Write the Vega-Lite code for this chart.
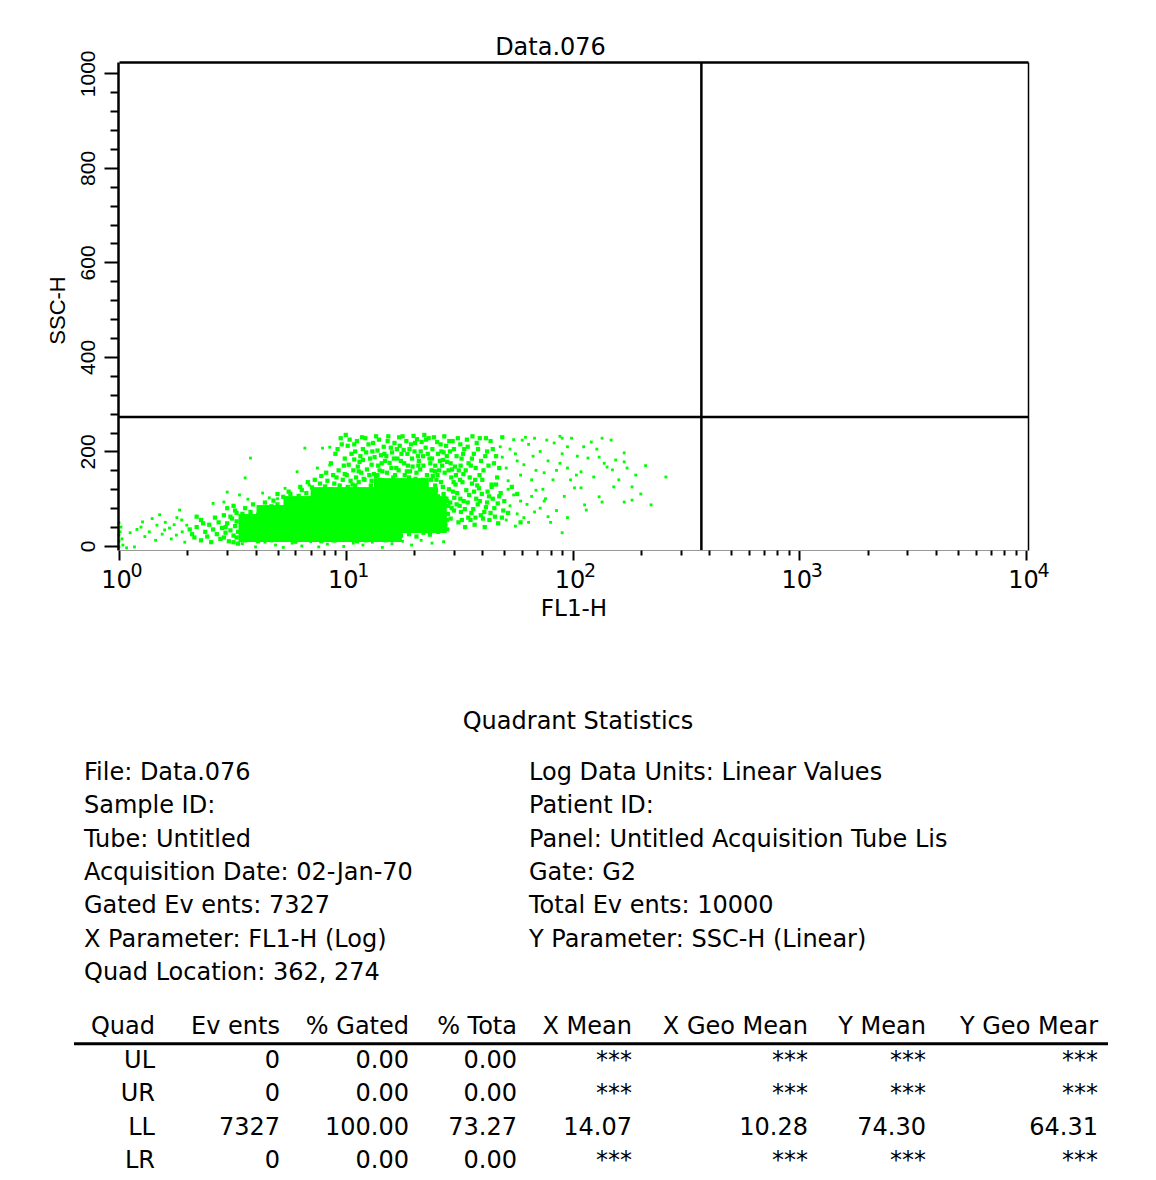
{
"$schema": "https://vega.github.io/schema/vega-lite/v6.json",
"autosize": "none",
"width": 909,
"height": 488,
"padding": {"left": 119, "top": 62, "right": 128, "bottom": 630},
"background": "white",
"config": {"view": {"stroke": null}, "font": "DejaVu Sans"},
"title": {"text": "Data.076", "font": "DejaVu Sans", "fontSize": 24, "fontWeight": "normal", "color": "black", "anchor": "middle", "dx": -23, "offset": -29, "baseline": "alphabetic"},
"datasets": {
"core": "fl1,ssc\n3.54,19\n3.54,38\n3.54,57\n3.88,19\n3.88,38\n3.88,57\n4.25,19\n4.25,38\n4.25,57\n4.25,76\n4.66,19\n4.66,38\n4.66,57\n4.66,76\n5.10,19\n5.10,38\n5.10,57\n5.10,76\n5.59,19\n5.59,38\n5.59,57\n5.59,76\n5.59,95\n6.13,19\n6.13,38\n6.13,57\n6.13,76\n6.13,95\n6.72,19\n6.72,38\n6.72,57\n6.72,76\n6.72,95\n7.36,19\n7.36,38\n7.36,57\n7.36,76\n7.36,95\n7.36,114\n8.07,19\n8.07,38\n8.07,57\n8.07,76\n8.07,95\n8.07,114\n8.84,19\n8.84,38\n8.84,57\n8.84,76\n8.84,95\n8.84,114\n9.69,19\n9.69,38\n9.69,57\n9.69,76\n9.69,95\n9.69,114\n10.6,19\n10.6,38\n10.6,57\n10.6,76\n10.6,95\n10.6,114\n11.6,19\n11.6,38\n11.6,57\n11.6,76\n11.6,95\n11.6,114\n12.7,19\n12.7,38\n12.7,57\n12.7,76\n12.7,95\n12.7,114\n14.0,19\n14.0,38\n14.0,57\n14.0,76\n14.0,95\n14.0,114\n14.0,133\n15.3,19\n15.3,38\n15.3,57\n15.3,76\n15.3,95\n15.3,114\n15.3,133\n16.8,19\n16.8,38\n16.8,57\n16.8,76\n16.8,95\n16.8,114\n16.8,133\n18.4,38\n18.4,57\n18.4,76\n18.4,95\n18.4,114\n18.4,133\n20.1,38\n20.1,57\n20.1,76\n20.1,95\n20.1,114\n20.1,133\n22.1,38\n22.1,57\n22.1,76\n22.1,95\n22.1,114\n22.1,133\n24.2,38\n24.2,57\n24.2,76\n24.2,95\n24.2,114\n26.5,38\n26.5,57\n26.5,76\n26.5,95",
"mid": "fl1,ssc\n10.1,150\n10.3,172\n10.6,195\n10.2,212\n10.8,160\n10.5,138\n10.9,183\n10.4,225\n11.1,145\n11.3,168\n11.6,190\n11.9,205\n11.2,222\n11.7,155\n11.5,178\n11.8,230\n12.1,140\n12.4,162\n12.8,185\n13.1,200\n12.6,215\n13.3,152\n12.2,228\n13.0,172\n13.6,148\n13.9,170\n14.3,192\n14.7,210\n14.0,225\n14.5,158\n14.9,180\n13.8,202\n15.2,155\n15.6,176\n16.0,198\n16.4,218\n15.4,232\n16.7,165\n16.2,145\n15.8,208\n17.1,160\n17.5,180\n18.0,203\n18.5,222\n17.3,212\n18.8,170\n18.2,150\n17.8,232\n19.2,158\n19.6,185\n20.1,200\n20.6,226\n19.4,215\n20.9,170\n20.3,142\n19.9,233\n21.3,162\n21.9,190\n22.5,208\n23.2,228\n21.6,220\n23.6,175\n22.8,150\n22.2,235\n24.2,148\n24.8,170\n25.5,195\n26.2,215\n24.5,230\n26.8,182\n25.8,160\n25.1,140\n27.3,155\n28,178\n28.8,200\n29.6,222\n27.7,212\n30.3,168\n29.2,145\n30.8,190\n31.5,160\n32.4,185\n33.3,205\n34.2,225\n31.9,140\n34.8,175\n33,152\n32,215\n35.6,170\n36.7,195\n37.8,218\n38.9,150\n36.2,232\n39.5,180\n37.2,140\n40.5,160\n42,200\n43.5,222\n45,175\n46.5,145\n44,130\n41.5,228\n10.7,130\n11.4,135\n12.9,128\n14.2,140\n15.0,132\n16.5,150\n17.7,138\n19.0,145\n20.5,155\n21.8,140\n23.9,160\n25.4,150\n26.6,170\n28.4,160\n29.9,135\n11.0,200\n13.4,188\n15.1,190\n16.9,185\n18.7,195\n21.0,180\n23.0,195\n24.0,185\n27.0,198\n29.0,175\n8.6,175\n9.0,195\n9.3,160\n9.6,215\n9.9,185\n8.8,150\n9.5,228\n3.5,68\n3.6,80\n3.8,72\n3.9,88\n4.1,66\n4.2,78\n4.4,92\n4.5,70\n4.7,84\n4.8,96\n5.0,88\n5.2,76\n5.3,104\n5.5,92\n5.7,110\n5.8,98\n6.0,84\n6.2,106\n6.4,118\n6.5,96\n6.7,112\n6.9,100\n7.1,124\n7.3,108\n7.5,118\n7.7,132\n7.9,112\n8.1,126\n8.3,138\n8.6,120\n8.9,132\n9.1,145\n9.4,128\n9.7,140\n9.9,152\n2.1,25\n2.2,40\n2.3,12\n2.3,55\n2.4,30\n2.45,20\n2.5,45\n2.55,8\n2.6,35\n2.65,60\n2.7,25\n2.75,50\n2.8,15\n2.85,38\n2.9,65\n2.95,28\n3.0,48\n3.05,10\n3.1,33\n3.15,58\n3.2,22\n3.25,42\n3.3,70\n3.35,5\n2.2,62\n2.35,48\n2.05,35\n2.15,18\n3.0,80\n3.2,85\n27.5,45\n28.2,68\n28.9,92\n29.7,115\n30.5,130\n27.9,55\n29.3,80\n30.1,102\n28.5,120\n31.4,50\n32.2,72\n33.1,95\n34,118\n34.7,60\n32.7,135\n31.8,85\n33.6,40\n35.5,55\n36.5,78\n37.6,100\n38.7,122\n39.4,65\n36,132\n37,45\n38.2,88\n40.3,58\n41.5,82\n42.8,105\n44,125\n41,40\n43.5,70\n42.2,115\n45.5,62\n46.8,90\n48.2,112\n49.5,75\n47,48\n46,130\n26,60\n27,80\n25.5,105\n26.8,125\n24.8,128\n28,35\n9.2,205\n9.8,170\n10.0,235\n10.9,215\n11.4,158\n11.9,182\n12.3,198\n12.7,150\n13.2,218\n13.6,232\n14.1,160\n14.4,175\n14.8,195\n15.3,222\n15.9,165\n16.3,185\n16.8,205\n17.2,230\n17.6,195\n18.1,175\n18.6,158\n19.1,205\n19.7,168\n20.2,218\n20.8,190\n21.4,200\n22.0,170\n22.6,225\n23.4,185\n24.1,205\n24.7,158\n25.3,220\n26.0,180\n26.4,200\n27.2,232\n27.9,190\n28.6,222\n29.4,162\n30.0,205\n30.6,150\n31.2,228\n32.1,170\n32.9,195\n33.8,160\n34.5,210\n35.2,145\n36.0,185\n37.4,165\n38.3,205\n39.0,228\n40.0,140\n41.2,190\n42.6,170\n44.5,205\n46.0,190\n47.5,165\n49.0,230\n27.0,110\n28.0,95\n29.0,58\n30.0,75\n30.8,88\n31.0,112\n32.0,100\n32.5,55\n33.5,78\n34.5,92\n35.0,108\n35.8,70\n36.8,115\n37.3,60\n38.0,128\n39.0,95\n39.8,110\n40.8,72\n42.0,92\n43.0,55\n44.5,100\n45.2,80\n47.5,105\n48.8,60\n50,95\n52,70\n54,125\n57,110\n59,50\n5.0,110\n5.6,115\n6.3,125\n6.8,135\n7.3,140\n7.8,148\n8.2,155\n10.2,125\n11.0,128\n12.0,142\n13.0,138\n13.8,150\n22.5,128\n23.8,140\n26.3,135\n25.0,118\n3.3,18\n3.6,12\n4.1,10\n4.7,12\n5.4,14\n6.0,9\n6.9,14\n7.8,10\n8.8,12\n10.0,14\n11.2,10\n12.3,12\n13.5,15\n15.0,12\n16.2,16\n17.5,22\n19.0,25\n20.5,20\n22.0,28\n23.5,24\n25.5,30\n27.2,65\n27.8,100\n28.3,85\n2.9,18\n3.1,62\n3.25,75\n3.3,52\n3.35,30\n3.2,8\n2.95,40",
"sparse": "fl1,ssc\n1.0,49\n1.0,23\n1.04,2\n1.17,-2\n1.08,-4\n1.27,51\n1.36,30\n1.51,66\n1.47,44\n1.59,34\n1.67,38\n1.79,23\n1.85,76\n1.89,55\n1.99,44\n1.0,10\n1.01,30\n1.02,40\n1.0,-2\n1.03,15\n1.2,35\n1.3,20\n1.45,12\n1.55,25\n1.7,15\n1.75,45\n1.9,30\n1.95,8\n1.25,40\n1.4,58\n1.6,50\n1.8,60\n1.12,28\n3.5,5\n4.0,-2\n4.4,8\n4.9,2\n5.3,-3\n5.8,6\n6.4,0\n7.0,9\n7.6,-2\n8.3,4\n9.0,10\n9.8,-1\n10.8,6\n11.9,2\n13.1,8\n14.5,-3\n16,5\n17.8,10\n19.5,2\n21.5,12\n24,6\n27,9\n3.8,186\n3.6,144\n3.0,114\n6.1,157\n6.6,207\n7.9,207\n3.4,108\n4.6,102\n5.4,122\n6.9,129\n8.5,209\n7.5,165\n8.5,171\n2.9,93\n3.7,99\n4.3,112\n5.0,100\n2.6,90\n51,165\n53,205\n55,225\n57,180\n59,150\n52,138\n56,195\n61,172\n64,215\n67,190\n69,160\n62,230\n66,140\n48,210\n49,188\n51,55\n53,85\n55,108\n57,68\n59,95\n52,120\n56,42\n61,60\n63,88\n66,105\n68,72\n64,50\n69,118\n72,80\n76,100\n74,120\n78,62\n90,28\n109,123\n113,87\n115,76\n109,157\n117,186\n121,220\n135,228\n148,224\n131,188\n142,167\n150,161\n169,197\n169,178\n152,125\n183,125\n183,97\n169,93\n135,93\n131,104\n222,87\n258,146\n102,123\n95,165\n99,228\n90,228\n83,218\n77,224\n68,228\n60,224\n104,150\n124,146\n155,182\n174,165\n80,50\n85,75\n92,105\n98,140\n105,190\n112,210\n128,205\n138,175\n160,140\n190,150\n200,110\n210,170\n95,60\n88,175\n75,95\n82,140\n72,200\n78,180\n85,160\n90,195\n75,155\n95,210\n88,232",
"info": [
{"col":1,"line":1,"t":"File: Data.076"},
{"col":1,"line":2,"t":"Sample ID:"},
{"col":1,"line":3,"t":"Tube: Untitled"},
{"col":1,"line":4,"t":"Acquisition Date: 02-Jan-70"},
{"col":1,"line":5,"t":"Gated Ev ents: 7327"},
{"col":1,"line":6,"t":"X Parameter: FL1-H (Log)"},
{"col":1,"line":7,"t":"Quad Location: 362, 274"},
{"col":2,"line":1,"t":"Log Data Units: Linear Values"},
{"col":2,"line":2,"t":"Patient ID:"},
{"col":2,"line":3,"t":"Panel: Untitled Acquisition Tube Lis"},
{"col":2,"line":4,"t":"Gate: G2"},
{"col":2,"line":5,"t":"Total Ev ents: 10000"},
{"col":2,"line":6,"t":"Y Parameter: SSC-H (Linear)"}
],
"table": [
{"r":0,"c":1,"t":"Quad"},{"r":0,"c":2,"t":"Ev ents"},{"r":0,"c":3,"t":"% Gated"},{"r":0,"c":4,"t":"% Tota"},{"r":0,"c":5,"t":"X Mean"},{"r":0,"c":6,"t":"X Geo Mean"},{"r":0,"c":7,"t":"Y  Mean"},{"r":0,"c":8,"t":"Y Geo Mear"},
{"r":1,"c":1,"t":"UL"},{"r":1,"c":2,"t":"0"},{"r":1,"c":3,"t":"0.00"},{"r":1,"c":4,"t":"0.00"},{"r":1,"c":5,"t":"***"},{"r":1,"c":6,"t":"***"},{"r":1,"c":7,"t":"***"},{"r":1,"c":8,"t":"***"},
{"r":2,"c":1,"t":"UR"},{"r":2,"c":2,"t":"0"},{"r":2,"c":3,"t":"0.00"},{"r":2,"c":4,"t":"0.00"},{"r":2,"c":5,"t":"***"},{"r":2,"c":6,"t":"***"},{"r":2,"c":7,"t":"***"},{"r":2,"c":8,"t":"***"},
{"r":3,"c":1,"t":"LL"},{"r":3,"c":2,"t":"7327"},{"r":3,"c":3,"t":"100.00"},{"r":3,"c":4,"t":"73.27"},{"r":3,"c":5,"t":"14.07"},{"r":3,"c":6,"t":"10.28"},{"r":3,"c":7,"t":"74.30"},{"r":3,"c":8,"t":"64.31"},
{"r":4,"c":1,"t":"LR"},{"r":4,"c":2,"t":"0"},{"r":4,"c":3,"t":"0.00"},{"r":4,"c":4,"t":"0.00"},{"r":4,"c":5,"t":"***"},{"r":4,"c":6,"t":"***"},{"r":4,"c":7,"t":"***"},{"r":4,"c":8,"t":"***"}
]
},
"layer": [
{
"data": {"name": "core", "format": {"type": "csv", "parse": {"fl1": "number", "ssc": "number"}}},
"mark": {"type": "square", "size": 100, "color": "#00ff00", "opacity": 1},
"encoding": {
"x": {"field": "fl1", "type": "quantitative", "scale": {"type": "log", "domain": [1, 10200], "nice": false},
"axis": {"orient": "top", "ticks": false, "labels": false, "grid": false, "title": null, "domainColor": "black", "domainWidth": 2.5, "zindex": 1}},
"y": {"field": "ssc", "type": "quantitative", "scale": {"domain": [-8.5, 1024], "nice": false, "zero": false},
"axis": {"orient": "right", "ticks": false, "labels": false, "grid": false, "title": null, "domainColor": "black", "domainWidth": 1.5, "zindex": 1}}
}
},
{
"data": {"name": "mid", "format": {"type": "csv", "parse": {"fl1": "number", "ssc": "number"}}},
"mark": {"type": "square", "size": 18, "color": "#00ff00", "opacity": 1},
"encoding": {
"x": {"field": "fl1", "type": "quantitative", "scale": {"type": "log", "domain": [1, 10200], "nice": false},
"axis": {"orient": "bottom", "values": [1, 10, 100, 1000, 10000],
"labelExpr": "datum.value == 1 ? '0' : datum.value == 10 ? '1' : datum.value == 100 ? '2' : datum.value == 1000 ? '3' : '4'",
"labelFont": "DejaVu Sans", "labelFontSize": 19, "labelColor": "black", "labelBaseline": "alphabetic", "labelPadding": 26, "labelOffset": 17, "labelFlush": false, "labelOverlap": false,
"ticks": false, "tickSize": 0, "domain": false, "grid": false, "title": null, "zindex": 1}},
"y": {"field": "ssc", "type": "quantitative", "scale": {"domain": [-8.5, 1024], "nice": false, "zero": false}, "axis": null}
}
},
{
"data": {"name": "sparse", "format": {"type": "csv", "parse": {"fl1": "number", "ssc": "number"}}},
"mark": {"type": "square", "size": 8, "color": "#00ff00", "opacity": 1},
"encoding": {
"x": {"field": "fl1", "type": "quantitative", "scale": {"type": "log", "domain": [1, 10200], "nice": false},
"axis": {"orient": "bottom", "values": [1, 10, 100, 1000, 10000],
"labelExpr": "'10'",
"labelFont": "DejaVu Sans", "labelFontSize": 24, "labelColor": "black", "labelBaseline": "alphabetic", "labelPadding": 27, "labelOffset": -3, "labelFlush": false, "labelOverlap": false,
"tickSize": 10, "tickWidth": 2, "tickColor": "black", "domainColor": "#999999", "domainWidth": 1, "grid": false,
"title": "FL1-H", "titleFont": "DejaVu Sans", "titleFontSize": 23, "titleFontWeight": "normal", "titleColor": "black", "titleBaseline": "alphabetic", "titleY": 65, "zindex": 1}},
"y": {"field": "ssc", "type": "quantitative", "scale": {"domain": [-8.5, 1024], "nice": false, "zero": false},
"axis": {"orient": "left", "offset": 1, "values": [0, 200, 400, 600, 800, 1000], "format": "d", "labelAngle": 270, "labelAlign": "center", "labelBaseline": "alphabetic",
"labelFont": "Liberation Sans", "labelFontSize": 21, "labelColor": "black", "labelPadding": 10, "labelOverlap": false, "labelFlush": false,
"tickSize": 14, "tickWidth": 2, "tickColor": "black", "domainColor": "black", "domainWidth": 2.5, "grid": false,
"title": "SSC-H", "titleFont": "Liberation Sans", "titleFontSize": 22, "titleFontWeight": "normal", "titleColor": "black", "titleAngle": 270, "titleBaseline": "alphabetic", "titleAlign": "center", "titleX": -54, "titleY": 248, "zindex": 1}}
}
},
{
"data": {"values": [{}]},
"mark": {"type": "rule", "color": "black", "strokeWidth": 2.5},
"encoding": {
"x": {"datum": 370, "type": "quantitative", "scale": {"type": "log", "domain": [1, 10200], "nice": false},
"axis": {"orient": "bottom", "values": [2,3,4,5,6,7,8,9,20,30,40,50,60,70,80,90,200,300,400,500,600,700,800,900,2000,3000,4000,5000,6000,7000,8000,9000],
"labels": false, "tickSize": 5, "tickWidth": 2, "tickColor": "black", "domain": false, "grid": false, "title": null, "zindex": 1}}
}
},
{
"data": {"values": [{}]},
"mark": {"type": "rule", "color": "black", "strokeWidth": 2.5},
"encoding": {
"y": {"datum": 273, "type": "quantitative", "scale": {"domain": [-8.5, 1024], "nice": false, "zero": false},
"axis": {"orient": "left", "offset": 1, "values": [40,80,120,160,240,280,320,360,440,480,520,560,640,680,720,760,840,880,920,960],
"labels": false, "tickSize": 8, "tickWidth": 2, "tickColor": "black", "domain": false, "grid": false, "title": null, "zindex": 1}}
}
},
{
"data": {"values": [{"t": "Quadrant Statistics"}]},
"mark": {"type": "text", "align": "center", "baseline": "alphabetic", "font": "DejaVu Sans", "fontSize": 24, "color": "black"},
"encoding": {
"x": {"datum": 0.5, "type": "quantitative", "scale": {"domain": [0, 1], "range": [-119, 1037]}, "axis": null},
"y": {"datum": 0, "type": "quantitative", "scale": {"domain": [0, 1, 7], "range": [667, 718, 918]}, "axis": null},
"text": {"field": "t", "type": "nominal"}
}
},
{
"data": {"name": "info"},
"mark": {"type": "text", "align": "left", "baseline": "alphabetic", "font": "DejaVu Sans", "fontSize": 24, "color": "black"},
"encoding": {
"x": {"field": "col", "type": "quantitative", "scale": {"domain": [1, 2], "range": [-35, 410]}, "axis": null},
"y": {"field": "line", "type": "quantitative", "scale": {"domain": [0, 1, 7], "range": [667, 718, 918]}, "axis": null},
"text": {"field": "t", "type": "nominal"}
}
},
{
"data": {"name": "table"},
"mark": {"type": "text", "align": "right", "baseline": "alphabetic", "font": "DejaVu Sans", "fontSize": 24, "color": "black"},
"encoding": {
"x": {"field": "c", "type": "quantitative", "scale": {"domain": [0,1,2,3,4,5,6,7,8,9], "range": [-45,36,161,290,398,513,689,807,979,989]}, "axis": null},
"y": {"field": "r", "type": "quantitative", "scale": {"domain": [0, 1, 4], "range": [971.5, 1006, 1106]}, "axis": null},
"text": {"field": "t", "type": "nominal"}
}
},
{
"data": {"values": [{}]},
"mark": {"type": "rule", "color": "black", "strokeWidth": 3},
"encoding": {
"x": {"datum": 0, "type": "quantitative", "scale": {"domain": [0,1,2,3,4,5,6,7,8,9], "range": [-45,36,161,290,398,513,689,807,979,989]}, "axis": null},
"x2": {"datum": 9},
"y": {"datum": 0.3, "type": "quantitative", "scale": {"domain": [0, 1, 4], "range": [971.5, 1006, 1106]}, "axis": null}
}
}
],
"resolve": {"scale": {"x": "independent", "y": "independent"}, "axis": {"x": "independent", "y": "independent"}}
}
